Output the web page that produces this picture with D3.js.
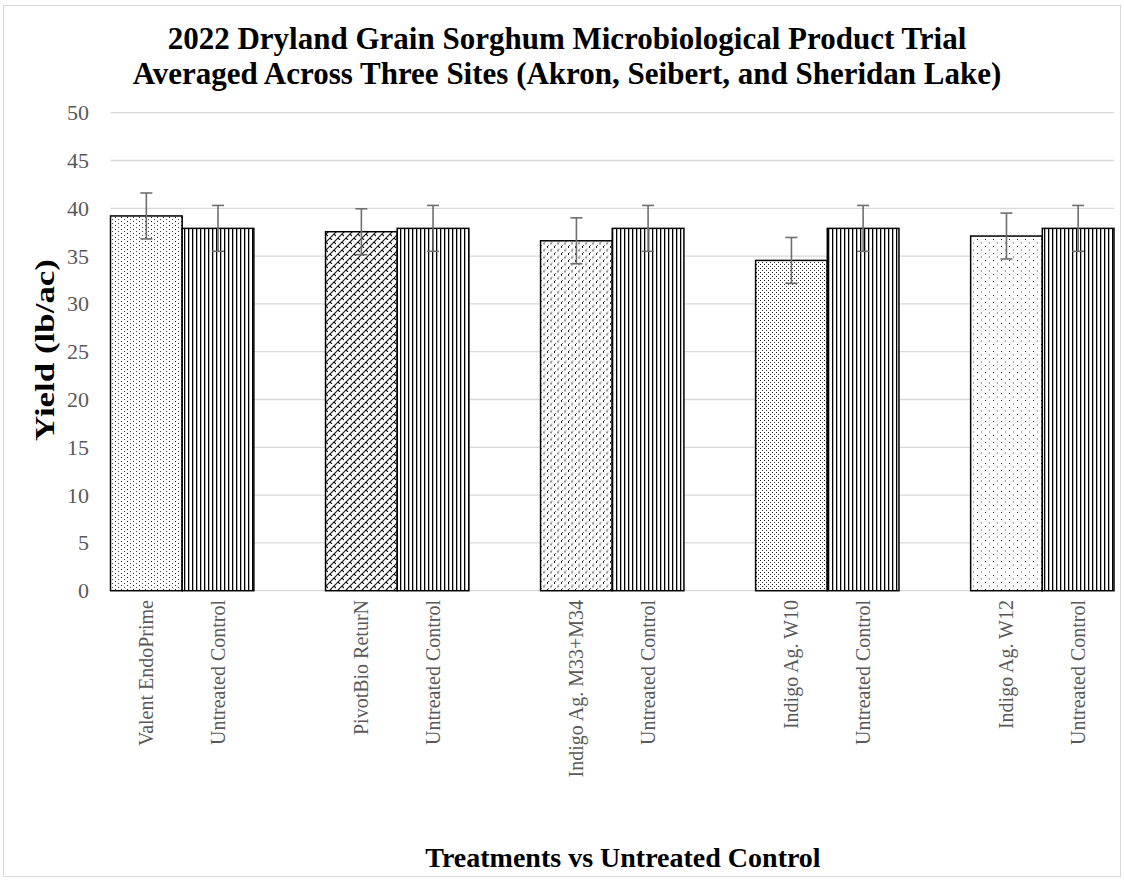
<!DOCTYPE html>
<html><head><meta charset="utf-8">
<script src="https://cdn.jsdelivr.net/npm/d3@7"></script>
<style>body{margin:0;background:#fff}</style>
</head><body>
<script>
// Data
const treatments = ["Valent EndoPrime","Untreated Control","PivotBio ReturN","Untreated Control","Indigo Ag. M33+M34","Untreated Control","Indigo Ag. W10","Untreated Control","Indigo Ag. W12","Untreated Control"];
const yields = [39.2, 37.9, 37.55, 37.9, 36.6, 37.9, 34.55, 37.9, 37.1, 37.9];
const errors = [2.4, 2.4, 2.4, 2.4, 2.4, 2.4, 2.4, 2.4, 2.4, 2.4];
const patterns = ["pDots","pVert","pBrick","pVert","pSphere","pVert","pGrid","pVert","pSparse","pVert"];
const yTicks = [0,5,10,15,20,25,30,35,40,45,50];
const titleLines = ["2022 Dryland Grain Sorghum Microbiological Product Trial","Averaged Across Three Sites (Akron, Seibert, and Sheridan Lake)"];

(function(){
const W=1124,H=880;
const svg=d3.select("body").append("svg").attr("width",W).attr("height",H);
const defs=svg.append("defs");
function pat(id,w,h,draw){const p=defs.append("pattern").attr("id",id).attr("patternUnits","userSpaceOnUse").attr("width",w).attr("height",h);p.append("rect").attr("width",w).attr("height",h).attr("fill","#fff");draw(p);}
pat("pVert",4,4,p=>p.append("rect").attr("x",0).attr("y",0).attr("width",1.3).attr("height",4).attr("fill","#000"));
pat("pDots",6,4,p=>{p.append("rect").attr("x",1).attr("y",1).attr("width",1).attr("height",1).attr("fill","#222");p.append("rect").attr("x",4).attr("y",3).attr("width",1).attr("height",1).attr("fill","#444");});
pat("pBrick",8,8,p=>{p.append("path").attr("d","M0,8L8,0M-1,1L1,-1M7,9L9,7M2,6L4,8M6,2L8,4").attr("stroke","#111").attr("stroke-width",1.1).attr("fill","none");});
pat("pSphere",7,7,p=>{p.append("rect").attr("x",1).attr("y",1).attr("width",1).attr("height",2).attr("fill","#222");p.append("rect").attr("x",2).attr("y",0).attr("width",1).attr("height",1).attr("fill","#666");p.append("rect").attr("x",4.5).attr("y",4.5).attr("width",1).attr("height",2).attr("fill","#333");p.append("rect").attr("x",5.5).attr("y",3.5).attr("width",1).attr("height",1).attr("fill","#777");});
pat("pGrid",4,4,p=>{p.append("rect").attr("x",0).attr("y",0).attr("width",1).attr("height",1).attr("fill","#222");p.append("rect").attr("x",2).attr("y",2).attr("width",1).attr("height",1).attr("fill","#333");});
pat("pSparse",8,7,p=>{p.append("rect").attr("x",1).attr("y",1).attr("width",1).attr("height",1).attr("fill","#222");p.append("rect").attr("x",5).attr("y",4.5).attr("width",1).attr("height",1).attr("fill","#555");});

// chart border
svg.append("rect").attr("x",3.5).attr("y",5.5).attr("width",W-7).attr("height",H-9).attr("fill","none").attr("stroke","#d9d9d9");

const pl=110.5,pr=1114,pt=112.7,pb=590.7;
const slots=d3.range(14);
const x=d3.scaleBand().domain(slots).range([pl,pr]).padding(0);
const slotOf=i=>Math.floor(i/2)*3+(i%2);
const y=d3.scaleLinear().domain([0,50]).range([pb,pt]);

// grid
svg.append("g").selectAll("line").data(yTicks).join("line")
 .attr("x1",pl).attr("x2",pr).attr("y1",d=>y(d)).attr("y2",d=>y(d))
 .attr("stroke","#d9d9d9").attr("stroke-width",1.3);

// y axis labels
const yAxis=d3.axisLeft(y).tickValues(yTicks).tickSize(0).tickPadding(0);
const gy=svg.append("g").attr("transform",`translate(89,0)`).call(yAxis);
gy.select(".domain").remove();
gy.selectAll("text").attr("font-family","Liberation Serif").attr("font-size",22).attr("fill","#595959");

// bars
svg.append("g").selectAll("rect").data(yields).join("rect")
 .attr("x",(d,i)=>x(slotOf(i))).attr("width",x.bandwidth())
 .attr("y",d=>y(d)).attr("height",d=>pb-y(d))
 .attr("fill",(d,i)=>`url(#${patterns[i]})`).attr("stroke","#000").attr("stroke-width",1.5);

// error bars
const eg=svg.append("g").attr("stroke","#6e6e6e").attr("stroke-width",1.6);
yields.forEach((v,i)=>{
 const cx=x(slotOf(i))+x.bandwidth()/2, e=errors[i];
 eg.append("line").attr("x1",cx).attr("x2",cx).attr("y1",y(v+e)).attr("y2",y(v-e));
 eg.append("line").attr("x1",cx-6).attr("x2",cx+6).attr("y1",y(v+e)).attr("y2",y(v+e));
 eg.append("line").attr("x1",cx-6).attr("x2",cx+6).attr("y1",y(v-e)).attr("y2",y(v-e));
});

// x labels
svg.append("g").selectAll("text").data(treatments).join("text")
 .attr("transform",(d,i)=>`translate(${x(slotOf(i))+x.bandwidth()/2+7},600) rotate(-90)`)
 .attr("text-anchor","end").attr("font-family","Liberation Serif").attr("font-size",20).attr("fill","#595959").text(d=>d);

// titles
svg.append("g").selectAll("text").data(titleLines).join("text")
 .attr("x",567).attr("y",(d,i)=>49+i*35).attr("text-anchor","middle")
 .attr("font-family","Liberation Serif").attr("font-weight","bold").attr("font-size",31).attr("fill","#000").text(d=>d);

svg.append("text").attr("transform","translate(54,350) rotate(-90)").attr("text-anchor","middle")
 .attr("font-family","Liberation Serif").attr("font-weight","bold").attr("font-size",27)
 .attr("textLength",182).attr("lengthAdjust","spacingAndGlyphs").text("Yield (lb/ac)");
svg.append("text").attr("x",623).attr("y",867).attr("text-anchor","middle")
 .attr("font-family","Liberation Serif").attr("font-weight","bold").attr("font-size",28).text("Treatments vs Untreated Control");
})();
</script>
</body></html>
